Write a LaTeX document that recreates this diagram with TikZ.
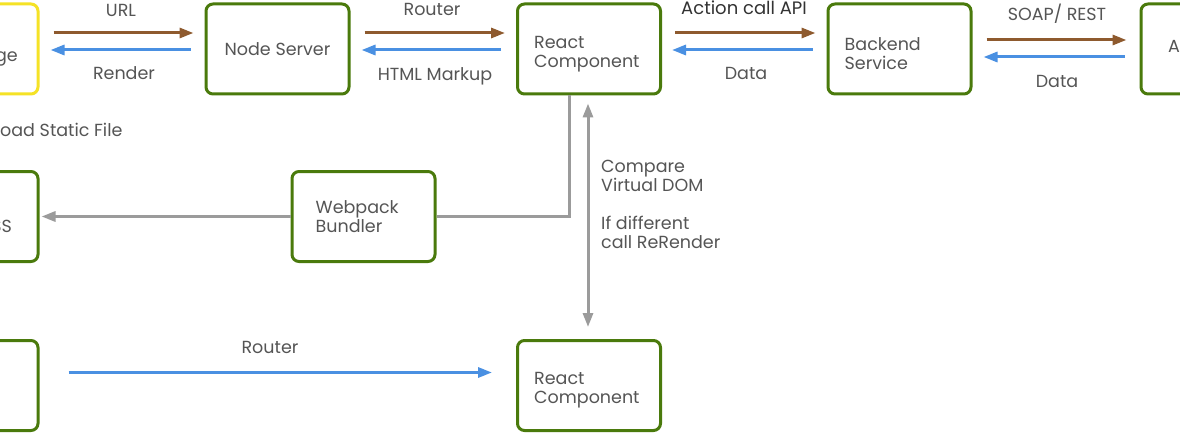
\documentclass[tikz,border=0pt]{standalone}
\usepackage{fontspec}
\setmainfont{Poppins}
\usetikzlibrary{arrows.meta}
\definecolor{grn}{HTML}{4A7A0C}
\definecolor{ylw}{HTML}{F5E226}
\definecolor{brn}{HTML}{8E5A2E}
\definecolor{blu}{HTML}{4A90E2}
\definecolor{gry}{HTML}{9B9B9B}
\definecolor{txt}{HTML}{555555}
\definecolor{dtxt}{HTML}{333333}
\begin{document}
\begin{tikzpicture}[x=1pt,y=-1pt,
  box/.style={draw=grn, line width=3pt, rounded corners=7pt, minimum width=143pt, minimum height=90pt, inner sep=0pt, text=txt, font=\fontsize{17.5}{19}\selectfont},
  lbl/.style={text=txt, font=\fontsize{17.5}{19}\selectfont, inner sep=0pt},
  btxt/.style={lbl, align=left, anchor=west},
  tip/.style={-{Triangle[length=14pt,width=10pt]}},
  brnA/.style={draw=brn, line width=3pt, tip},
  bluA/.style={draw=blu, line width=3pt, tip},
  gryA/.style={draw=gry, line width=3pt}
]
\useasboundingbox (0,0) rectangle (1180,433);
\clip (0,0) rectangle (1180,433);
\fill[white] (0,0) rectangle (1180,433);

% boxes
\node[box, draw=ylw] (yel) at (-33.5,49) {};
\node[box] (ns) at (277.5,49) {Node Server};
\node[box] (rc1) at (589,49) {};
\node[box] (bs) at (899.5,49) {};
\node[box] (ab) at (1212.5,49) {};
\node[box] (ss) at (-33.5,216.5) {};
\node[box] (wb) at (363.5,216.5) {};
\node[box] (lb) at (-33.5,385.5) {};
\node[box] (rc2) at (589,385.5) {};

% box texts
\node[btxt] (trc1) at ([xshift=18pt,yshift=-5pt]rc1.west) {React\\Component};
\node[btxt] (tbs) at ([xshift=18pt,yshift=-5pt]bs.west) {Backend\\Service};
\node[btxt] (twb) at ([xshift=25pt,yshift=0pt]wb.west) {Webpack\\Bundler};
\node[btxt] (trc2) at ([xshift=18pt,yshift=-5pt]rc2.west) {React\\Component};

% partial texts of cut boxes
\node[lbl, anchor=base east] (tyel) at (18,62) {ge};
\node[lbl, anchor=base east] (tss) at (12,232) {SS};
\node[lbl, anchor=base west] (tab) at (1168,53) {A};
\node[lbl, anchor=base west] (tload) at (0,136) {oad Static File};

% top row arrows
\draw[brnA] ([xshift=14pt,yshift=16pt]yel.east) -- ([xshift=-11pt,yshift=16pt]ns.west);
\draw[bluA] ([xshift=-14pt,yshift=-1pt]ns.west) -- ([xshift=11pt,yshift=-1pt]yel.east);
\draw[brnA] ([xshift=14pt,yshift=16pt]ns.east) -- ([xshift=-11pt,yshift=16pt]rc1.west);
\draw[bluA] ([xshift=-15pt,yshift=-1pt]rc1.west) -- ([xshift=11pt,yshift=-1pt]ns.east);
\draw[brnA] ([xshift=13pt,yshift=16pt]rc1.east) -- ([xshift=-11pt,yshift=16pt]bs.west);
\draw[bluA] ([xshift=-14pt,yshift=-1pt]bs.west) -- ([xshift=10pt,yshift=-1pt]rc1.east);
\draw[brnA] ([xshift=14pt,yshift=9pt]bs.east) -- ([xshift=-13pt,yshift=9pt]ab.west);
\draw[bluA] ([xshift=-15pt,yshift=-8pt]ab.west) -- ([xshift=11pt,yshift=-8pt]bs.east);

% labels
\node[lbl] (lurl) at (121,10) {URL};
\node[lbl] (lrender) at (124,73) {Render};
\node[lbl] (lrouter) at (432,9) {Router};
\node[lbl] (lhtml) at (435,76) {HTML Markup};
\node[lbl, text=dtxt, font=\fontsize{18}{20}\selectfont] (lact) at (744,8) {Action call API};
\node[lbl] (ldata1) at (746,73) {Data};
\node[lbl] (lsoap) at (1057,14) {SOAP/ REST};
\node[lbl] (ldata2) at (1057,81) {Data};

% middle
\draw[gryA, tip] (wb.west) -- ([xshift=2pt]ss.east);
\draw[gryA] (wb.east) -| ([xshift=-20pt]rc1.south);
\draw[gryA, {Triangle[length=14pt,width=10pt]}-{Triangle[length=14pt,width=10pt]}] ([xshift=-1pt,yshift=-8pt]rc1.south) -- ([xshift=-1pt,yshift=12pt]rc2.north);
\node[lbl, align=left, anchor=north west] (lcmp) at (601,160) {Compare\\Virtual DOM\\[19pt]If different\\call ReRender};

% bottom
\draw[bluA] ([xshift=29pt,yshift=13pt]lb.east) -- ([xshift=-24pt,yshift=13pt]rc2.west);
\node[lbl] (lrouter2) at (270,347) {Router};
\end{tikzpicture}
\end{document}
